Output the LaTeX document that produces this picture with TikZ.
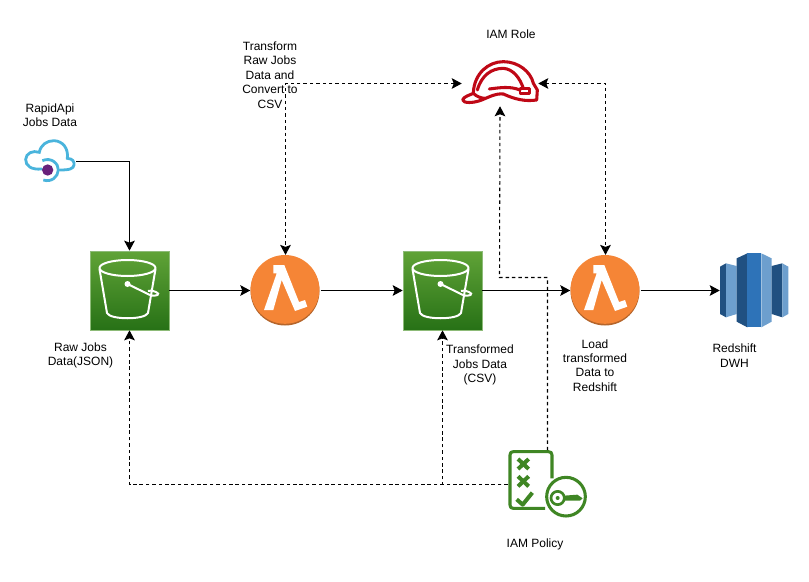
\documentclass[tikz,border=0pt]{standalone}
\usepackage{fontspec}
\setmainfont{Liberation Sans}
\usetikzlibrary{arrows.meta}
\definecolor{bucketTop}{HTML}{60A337}
\definecolor{bucketBot}{HTML}{277116}
\definecolor{bucketEdge}{HTML}{8DBB78}
\definecolor{lambdaOrange}{HTML}{F58536}
\definecolor{lambdaDark}{HTML}{B5652B}
\definecolor{helmetRed}{HTML}{BF0816}
\definecolor{policyGreen}{HTML}{3F8624}
\definecolor{cloudBlue}{HTML}{4AB4DC}
\definecolor{dotPurple}{HTML}{68217A}
\definecolor{rsDark}{HTML}{205081}
\definecolor{rsMid}{HTML}{2E73B8}
\definecolor{rsLight}{HTML}{6D9FCE}
\tikzset{
	lbl/.style={align=center,font=\fontsize{9}{10.8}\selectfont},
	iconbox/.style={inner sep=0pt,minimum width=#1*0.75pt},
	flow/.style={line width=0.8pt,-{Stealth[inset=1.5pt,length=7.5pt,width=8pt]}},
	dashflow/.style={flow,dash pattern=on 2.6pt off 2.2pt},
	bothflow/.style={dashflow,{Stealth[inset=1.5pt,length=7.5pt,width=8pt]}-{Stealth[inset=1.5pt,length=7.5pt,width=8pt]}}
}
\def\bucketicon(#1){\begin{scope}[shift={(#1)}]
	\draw[white,line width=1.5pt,line join=round] (37.5,17) ellipse (28 and 8);
	\draw[white,line width=1.5pt,line join=round] (9.5,18) -- (17,62) .. controls (20,69) and (55,69) .. (58,62) -- (65.5,18);
	\fill[white] (37.5,33) circle (3);
	\draw[white,line width=1.5pt] (37.5,33) -- (60,44) .. controls (67,46) and (71,43) .. (66,41) .. controls (63,39.5) and (60,39) .. (58,40);
\end{scope}}
\def\lambdaicon(#1){\begin{scope}[shift={(#1)}]
	\fill[lambdaDark] (0,1) circle (34.5);
	\fill[lambdaOrange] (0,-0.6) circle (34.4);
	\fill[white] (-11.7,-25) -- (-0.7,-25) -- (14,12) -- (20,10) -- (22.3,16.7) -- (10,21) -- (-3.3,-10) -- (-11.7,20) -- (-21,20) -- (-8.3,-16.7) -- (-11.7,-16.7) -- cycle;
\end{scope}}
\begin{document}
\begin{tikzpicture}[x=0.75pt,y=-0.75pt]
	%%%%% START %%%%%
	\useasboundingbox (0,0) rectangle (809,581);

	\node[iconbox=52,minimum height=39pt] (cloud) at (50,161.5) {};
	\node[iconbox=79,minimum height=59.25pt,draw=bucketEdge,line width=0.5pt,top color=bucketTop,bottom color=bucketBot] (rawbucket) at (129.5,290.5) {};
	\node[iconbox=79,minimum height=59.25pt,draw=bucketEdge,line width=0.5pt,top color=bucketTop,bottom color=bucketBot] (transbucket) at (442.5,290.5) {};
	\node[iconbox=70,minimum height=53pt] (lambdaone) at (285.5,290.5) {};
	\node[iconbox=70,minimum height=53pt] (lambdatwo) at (605.5,290.5) {};
	\node[iconbox=68,minimum height=57pt] (redshift) at (754,290.5) {};
	\node[iconbox=76,minimum height=33.75pt] (helmet) at (500,83.5) {};
	\node[iconbox=79,minimum height=51pt] (policy) at (547.5,484.5) {};
	\coordinate (roleturn) at (499.5,277.5);

	\bucketicon(90,251)
	\bucketicon(403,251)
	\lambdaicon(285,290)
	\lambdaicon(605,290)

	% cloud
	\begin{scope}[shift={(10,90)},scale=1/3]
		\draw[cloudBlue,line width=2.1pt,line cap=round] (95,237) .. controls (65,240) and (46,228) .. (47,208) .. controls (48,190) and (68,180) .. (88,187) .. controls (92,165) and (110,152) .. (132,152) .. controls (158,153) and (176,175) .. (172,205) .. controls (188,206) and (194,215) .. (192,225) .. controls (190,236) and (180,240) .. (150,240);
		\draw[cloudBlue,line width=2.1pt] (97,212) .. controls (125,200) and (146,222) .. (145,240) .. controls (144,260) and (125,278) .. (100,270);
		\fill[dotPurple] (113,240) circle (17);
	\end{scope}

	% helmet
	\begin{scope}[shift={(440,40)},scale=1/3,helmetRed,line width=2.3pt,line join=round,line cap=round]
		\draw (100,158) .. controls (103,100) and (145,65) .. (190,65) .. controls (235,65) and (272,95) .. (280,130) -- (292,150) -- (290,180) .. controls (255,185) and (225,178) .. (190,162) .. controls (165,160) and (150,170) .. (125,180) .. controls (100,190) and (70,190) .. (68,180) .. controls (70,170) and (90,165) .. (100,160) .. controls (110,170) and (125,175) .. (135,175);
		\draw (112,150) .. controls (125,105) and (155,85) .. (190,85) .. controls (220,87) and (240,115) .. (250,145);
		\draw (148,147) .. controls (180,143) and (210,138) .. (240,150);
		\draw[line width=1.8pt] (240,146) rectangle (268,160);
	\end{scope}

	% policy
	\begin{scope}[shift={(490,430)},scale=1/3,policyGreen,line width=2.3pt,line join=round]
		\draw (186,145) -- (186,75) .. controls (186,68) and (182,65) .. (175,65) -- (70,65) .. controls (63,65) and (60,68) .. (60,75) -- (60,225) .. controls (60,232) and (63,235) .. (70,235) -- (165,235);
		\draw (228,200) circle (58);
		\draw[line width=3pt] (84,87) -- (116,117);
		\draw[line width=3pt] (116,87) -- (84,117);
		\draw[line width=3pt] (84,139) -- (116,169);
		\draw[line width=3pt] (116,139) -- (84,169);
		\draw[line width=3pt] (80,208) -- (98,224) -- (127,188);
		\draw[line width=2pt] (203,204) circle (20);
		\fill (203,204) circle (6);
		\fill (222,197) -- (262,194) -- (278,205) -- (270,212) -- (222,212) -- cycle;
	\end{scope}

	% redshift
	\begin{scope}[shift={(700,240)},scale=1/3]
		\fill[rsDark] (60,80) -- (78,70) -- (78,232) -- (60,222) -- cycle;
		\fill[rsLight] (78,70) -- (110,78) -- (110,222) -- (78,232) -- cycle;
		\fill[rsDark] (110,55) -- (142,40) -- (142,262) -- (110,245) -- cycle;
		\fill[rsMid] (142,40) rectangle (184,262);
		\fill[rsLight] (184,40) -- (215,55) -- (215,245) -- (184,262) -- cycle;
		\fill[rsDark] (215,78) -- (247,70) -- (247,232) -- (215,222) -- cycle;
		\fill[rsLight] (247,70) -- (265,80) -- (265,222) -- (247,232) -- cycle;
	\end{scope}

	% connectors
	\draw[flow] (cloud.east) -| (rawbucket.north);
	\draw[flow] (rawbucket.east) -- (lambdaone.west);
	\draw[flow] (lambdaone.east) -- (transbucket.west);
	\draw[flow] (transbucket.east) -- (lambdatwo.west);
	\draw[flow] (lambdatwo.east) -- (redshift.west);
	\draw[bothflow] (helmet.west) -| (lambdaone.north);
	\draw[bothflow] (helmet.east) -| (lambdatwo.north);
	\draw[dashflow] (policy.west) -| (rawbucket.south);
	\draw[dashflow] (policy.west) -| (transbucket.south);
	\draw[dashflow] (policy.north) |- (roleturn) -- (helmet.south);

	% labels
	\node[lbl] (apitext) at (50,115) {RapidApi\\Jobs Data};
	\node[lbl] (rawtext) at (80.5,355.5) {Raw Jobs\\Data(JSON)};
	\node[lbl] (transformtext) at (270,75) {Transform\\Raw Jobs\\Data and\\Convert to\\CSV};
	\node[lbl] (roletext) at (511,34.5) {IAM Role};
	\node[lbl] (transtext) at (480,365) {Transformed\\Jobs Data\\(CSV)};
	\node[lbl] (loadtext) at (595,365.5) {Load\\transformed\\Data to\\Redshift};
	\node[lbl] (dwhtext) at (734.5,355.5) {Redshift\\DWH};
	\node[lbl] (policytext) at (535,544.5) {IAM Policy};
	%%%%% END %%%%%
\end{tikzpicture}
\end{document}
